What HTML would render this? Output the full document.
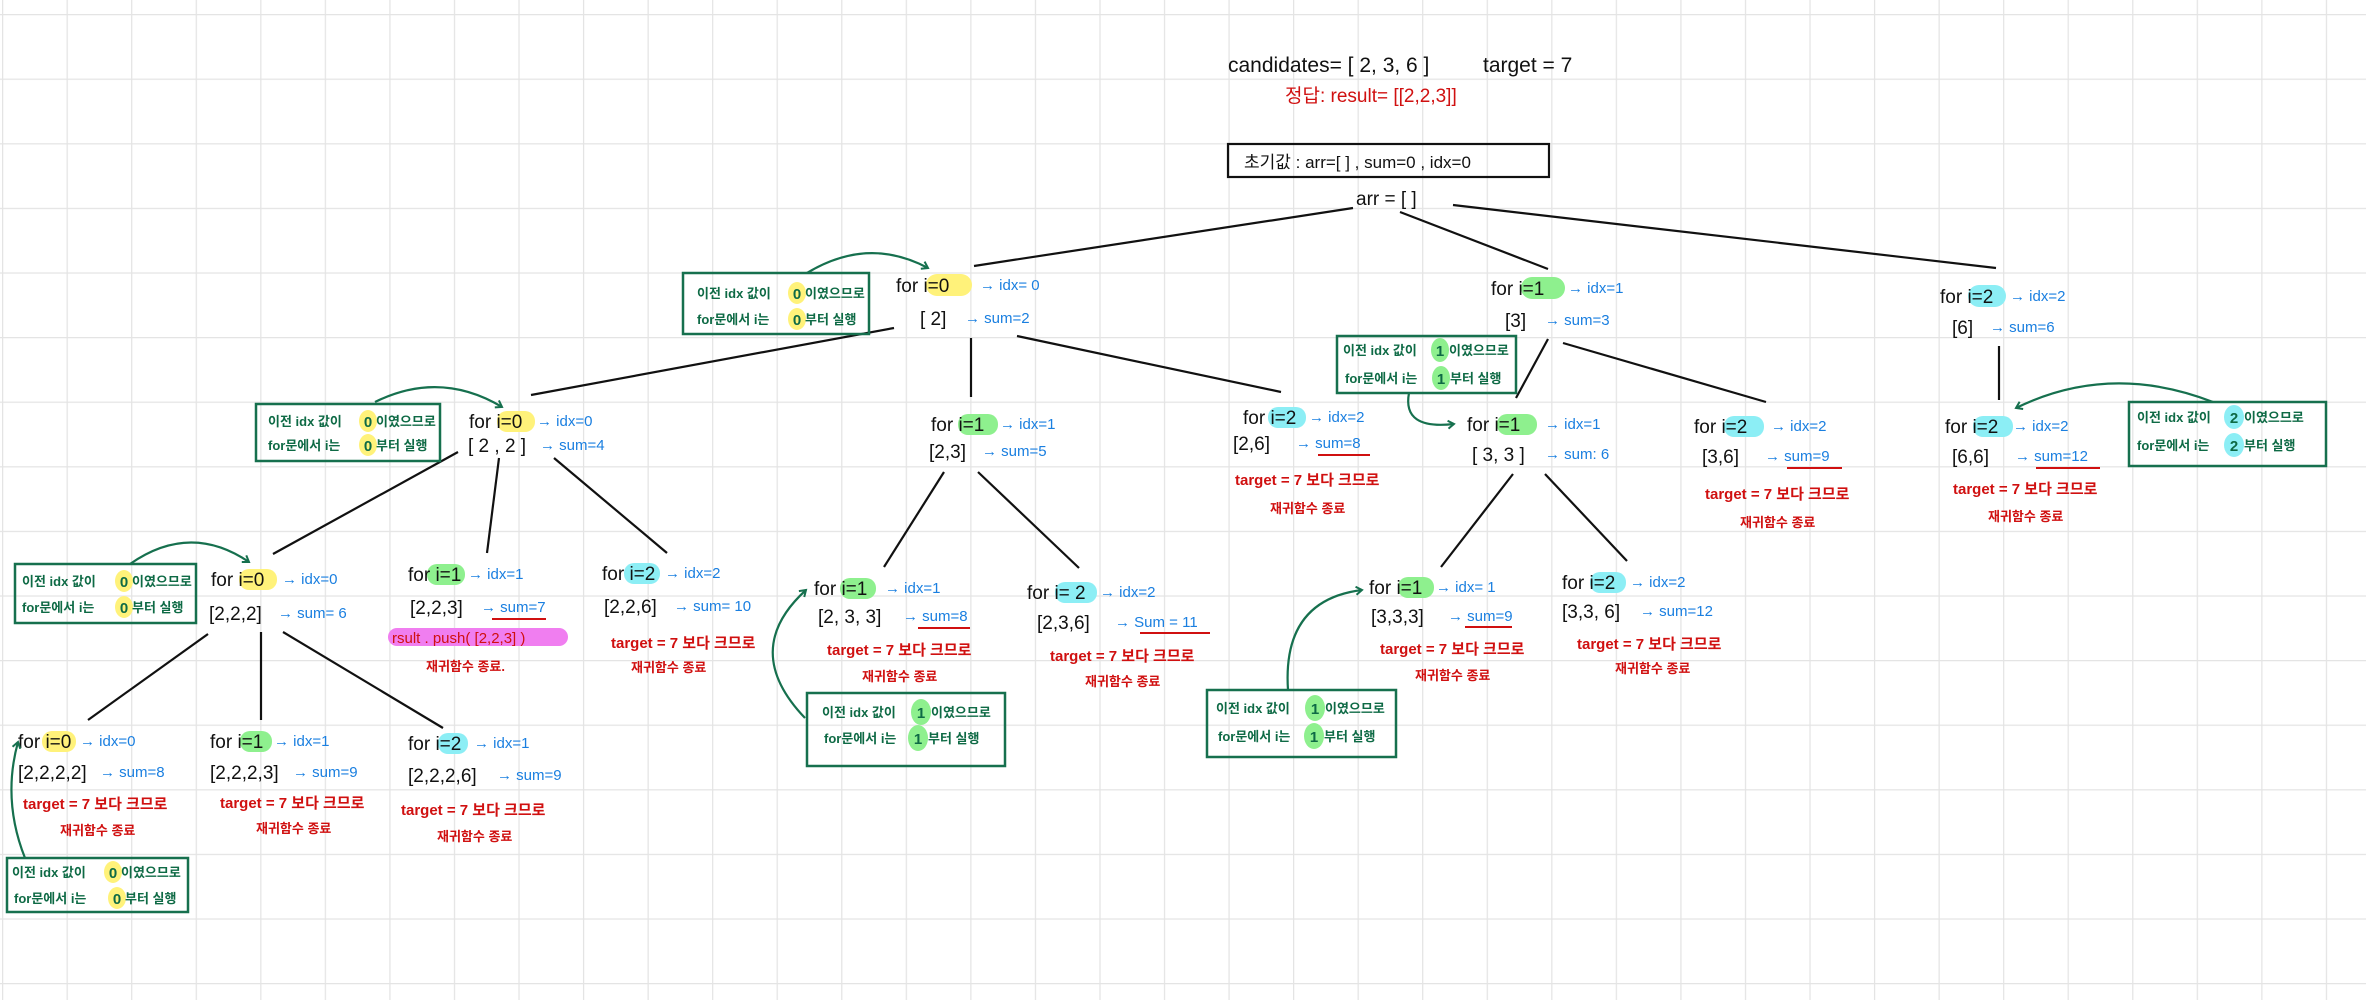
<!DOCTYPE html>
<html><head><meta charset="utf-8"><style>
html,body{margin:0;padding:0;background:#fff;}
svg{display:block;}
text{font-family:"Liberation Sans","Noto Sans CJK KR",sans-serif;}
.k{fill:#111;font-size:19px;}
.b{fill:#1a7fe0;font-size:15px;}
.r{fill:#d01010;font-size:15px;font-weight:bold;}
.g{fill:#0e6a45;font-size:13px;font-weight:bold;}
.gd{fill:#0e6a45;font-size:15px;font-weight:bold;text-anchor:middle;}
.ln{stroke:#111;stroke-width:2.2;}
.bx{fill:none;stroke:#16704e;stroke-width:2.5;}
.ar{fill:none;stroke:#16704e;stroke-width:2.2;marker-end:url(#ah);}
.ul{stroke:#d01010;stroke-width:2;}
</style></head><body>
<svg width="2366" height="1000" viewBox="0 0 2366 1000" xmlns="http://www.w3.org/2000/svg">
<defs>
<pattern id="grid" x="2" y="14" width="64.55" height="64.6" patternUnits="userSpaceOnUse">
<path d="M0 0 V64.6 M0 0 H64.55" stroke="#e4e4e4" stroke-width="2.5" fill="none"/>
</pattern>
<marker id="ah" markerWidth="10" markerHeight="10" refX="7" refY="5" orient="auto" markerUnits="userSpaceOnUse">
<path d="M1 1 L7 5 L1 9" fill="none" stroke="#16704e" stroke-width="2"/>
</marker>
</defs>
<rect x="0" y="0" width="2366" height="1000" fill="url(#grid)"/>

<!-- header -->
<text x="1228" y="72" class="k" style="font-size:21px">candidates= [ 2, 3, 6 ]</text>
<text x="1483" y="72" class="k" style="font-size:21px">target = 7</text>
<text x="1285" y="102" class="r" style="font-size:19px;font-weight:normal">정답:  result= [[2,2,3]]</text>
<rect x="1228" y="144" width="321" height="33" fill="none" stroke="#111" stroke-width="2.2"/>
<text x="1244" y="168" class="k" style="font-size:17px">초기값 :   arr=[ ] ,  sum=0 ,  idx=0</text>
<text x="1356" y="205" class="k" style="font-size:19px">arr =  [ ]</text>

<!-- tree lines -->
<line class="ln" x1="1353" y1="208" x2="974" y2="266"/>
<line class="ln" x1="1400" y1="212" x2="1548" y2="269"/>
<line class="ln" x1="1453" y1="205" x2="1996" y2="268"/>
<line class="ln" x1="894" y1="328" x2="531" y2="395"/>
<line class="ln" x1="971" y1="338" x2="971" y2="397"/>
<line class="ln" x1="1017" y1="336" x2="1281" y2="392"/>
<line class="ln" x1="458" y1="452" x2="273" y2="554"/>
<line class="ln" x1="499" y1="458" x2="487" y2="553"/>
<line class="ln" x1="554" y1="458" x2="667" y2="553"/>
<line class="ln" x1="208" y1="634" x2="88" y2="720"/>
<line class="ln" x1="261" y1="632" x2="261" y2="720"/>
<line class="ln" x1="283" y1="632" x2="443" y2="728"/>
<line class="ln" x1="944" y1="472" x2="884" y2="567"/>
<line class="ln" x1="978" y1="472" x2="1079" y2="568"/>
<line class="ln" x1="1548" y1="339" x2="1516" y2="398"/>
<line class="ln" x1="1563" y1="343" x2="1766" y2="402"/>
<line class="ln" x1="1513" y1="474" x2="1441" y2="567"/>
<line class="ln" x1="1545" y1="474" x2="1627" y2="561"/>
<line class="ln" x1="1999" y1="346" x2="1999" y2="400"/>

<!-- nodes: level1 -->
<rect x="926" y="274" width="46" height="22" rx="11" fill="#fff27a"/>
<text x="896" y="292" class="k">for  i=0</text><text x="980" y="290" class="b">→ idx= 0</text>
<text x="920" y="325" class="k">[ 2]</text><text x="965" y="323" class="b">→ sum=2</text>

<rect x="1521" y="277" width="44" height="22" rx="11" fill="#8ef08e"/>
<text x="1491" y="295" class="k">for  i=1</text><text x="1568" y="293" class="b">→ idx=1</text>
<text x="1505" y="327" class="k">[3]</text><text x="1545" y="325" class="b">→  sum=3</text>

<rect x="1968" y="285" width="38" height="22" rx="11" fill="#8ceef5"/>
<text x="1940" y="303" class="k">for  i=2</text><text x="2010" y="301" class="b">→  idx=2</text>
<text x="1952" y="334" class="k">[6]</text><text x="1990" y="332" class="b">→ sum=6</text>

<!-- level2 -->
<rect x="497" y="411" width="38" height="21" rx="10" fill="#fff27a"/>
<text x="469" y="428" class="k">for i=0</text><text x="537" y="426" class="b">→ idx=0</text>
<text x="468" y="452" class="k">[ 2 , 2 ]</text><text x="540" y="450" class="b">→ sum=4</text>

<rect x="958" y="414" width="40" height="21" rx="10" fill="#8ef08e"/>
<text x="931" y="431" class="k">for i=1</text><text x="1000" y="429" class="b">→ idx=1</text>
<text x="929" y="458" class="k">[2,3]</text><text x="982" y="456" class="b">→ sum=5</text>

<rect x="1268" y="407" width="38" height="21" rx="10" fill="#8ceef5"/>
<text x="1243" y="424" class="k">for i=2</text><text x="1309" y="422" class="b">→ idx=2</text>
<text x="1233" y="450" class="k">[2,6]</text><text x="1296" y="448" class="b">→ sum=8</text>
<line class="ul" x1="1318" y1="455" x2="1370" y2="455"/>
<text x="1235" y="485" class="r">target = 7 보다 크므로</text>
<text x="1270" y="513" class="r" style="font-size:13px">재귀함수 종료</text>

<rect x="1497" y="414" width="40" height="21" rx="10" fill="#8ef08e"/>
<text x="1467" y="431" class="k">for  i=1</text><text x="1545" y="429" class="b">→  idx=1</text>
<text x="1472" y="461" class="k">[ 3, 3 ]</text><text x="1545" y="459" class="b">→ sum: 6</text>

<rect x="1724" y="416" width="40" height="21" rx="10" fill="#8ceef5"/>
<text x="1694" y="433" class="k">for  i=2</text><text x="1771" y="431" class="b">→ idx=2</text>
<text x="1702" y="463" class="k">[3,6]</text><text x="1765" y="461" class="b">→ sum=9</text>
<line class="ul" x1="1787" y1="468" x2="1842" y2="468"/>
<text x="1705" y="499" class="r">target = 7 보다 크므로</text>
<text x="1740" y="527" class="r" style="font-size:13px">재귀함수 종료</text>

<rect x="1973" y="416" width="40" height="21" rx="10" fill="#8ceef5"/>
<text x="1945" y="433" class="k">for  i=2</text><text x="2013" y="431" class="b">→ idx=2</text>
<text x="1952" y="463" class="k">[6,6]</text><text x="2015" y="461" class="b">→  sum=12</text>
<line class="ul" x1="2036" y1="468" x2="2100" y2="468"/>
<text x="1953" y="494" class="r">target = 7 보다 크므로</text>
<text x="1988" y="521" class="r" style="font-size:13px">재귀함수 종료</text>

<!-- level3 -->
<rect x="239" y="569" width="38" height="21" rx="10" fill="#fff27a"/>
<text x="211" y="586" class="k">for i=0</text><text x="282" y="584" class="b">→ idx=0</text>
<text x="209" y="620" class="k">[2,2,2]</text><text x="278" y="618" class="b">→ sum= 6</text>

<rect x="427" y="564" width="38" height="21" rx="10" fill="#8ef08e"/>
<text x="408" y="581" class="k">for i=1</text><text x="468" y="579" class="b">→ idx=1</text>
<text x="410" y="614" class="k">[2,2,3]</text><text x="481" y="612" class="b">→ sum=7</text>
<line class="ul" x1="492" y1="619" x2="546" y2="619"/>
<rect x="388" y="628" width="180" height="18" rx="9" fill="#f07ef0"/>
<text x="392" y="643" class="r" style="font-weight:normal">rsult . push( [2,2,3] )</text>
<text x="426" y="671" class="r" style="font-size:13px">재귀함수 종료.</text>

<rect x="624" y="563" width="36" height="21" rx="10" fill="#8ceef5"/>
<text x="602" y="580" class="k">for i=2</text><text x="665" y="578" class="b">→ idx=2</text>
<text x="604" y="613" class="k">[2,2,6]</text><text x="674" y="611" class="b">→ sum= 10</text>
<text x="611" y="648" class="r">target = 7 보다 크므로</text>
<text x="631" y="672" class="r" style="font-size:13px">재귀함수 종료</text>

<rect x="840" y="578" width="36" height="21" rx="10" fill="#8ef08e"/>
<text x="814" y="595" class="k">for i=1</text><text x="885" y="593" class="b">→ idx=1</text>
<text x="818" y="623" class="k">[2, 3, 3]</text><text x="903" y="621" class="b">→ sum=8</text>
<line class="ul" x1="918" y1="628" x2="970" y2="628"/>
<text x="827" y="655" class="r">target = 7 보다 크므로</text>
<text x="862" y="681" class="r" style="font-size:13px">재귀함수 종료</text>

<rect x="1055" y="582" width="42" height="21" rx="10" fill="#8ceef5"/>
<text x="1027" y="599" class="k">for i= 2</text><text x="1100" y="597" class="b">→ idx=2</text>
<text x="1037" y="629" class="k">[2,3,6]</text><text x="1115" y="627" class="b">→ Sum = 11</text>
<line class="ul" x1="1140" y1="633" x2="1210" y2="633"/>
<text x="1050" y="661" class="r">target = 7 보다 크므로</text>
<text x="1085" y="686" class="r" style="font-size:13px">재귀함수 종료</text>

<rect x="1398" y="577" width="36" height="21" rx="10" fill="#8ef08e"/>
<text x="1369" y="594" class="k">for i=1</text><text x="1436" y="592" class="b">→ idx= 1</text>
<text x="1371" y="623" class="k">[3,3,3]</text><text x="1448" y="621" class="b">→ sum=9</text>
<line class="ul" x1="1465" y1="627" x2="1512" y2="627"/>
<text x="1380" y="654" class="r">target = 7 보다 크므로</text>
<text x="1415" y="680" class="r" style="font-size:13px">재귀함수 종료</text>

<rect x="1590" y="572" width="36" height="21" rx="10" fill="#8ceef5"/>
<text x="1562" y="589" class="k">for i=2</text><text x="1630" y="587" class="b">→ idx=2</text>
<text x="1562" y="618" class="k">[3,3, 6]</text><text x="1640" y="616" class="b">→ sum=12</text>
<text x="1577" y="649" class="r">target = 7 보다 크므로</text>
<text x="1615" y="673" class="r" style="font-size:13px">재귀함수 종료</text>

<!-- level4 -->
<rect x="42" y="731" width="34" height="21" rx="10" fill="#fff27a"/>
<text x="18" y="748" class="k">for i=0</text><text x="80" y="746" class="b">→ idx=0</text>
<text x="18" y="779" class="k">[2,2,2,2]</text><text x="100" y="777" class="b">→ sum=8</text>
<text x="23" y="809" class="r">target = 7 보다 크므로</text>
<text x="60" y="835" class="r" style="font-size:13px">재귀함수 종료</text>

<rect x="240" y="731" width="32" height="21" rx="10" fill="#8ef08e"/>
<text x="210" y="748" class="k">for i=1</text><text x="274" y="746" class="b">→ idx=1</text>
<text x="210" y="779" class="k">[2,2,2,3]</text><text x="293" y="777" class="b">→ sum=9</text>
<text x="220" y="808" class="r">target = 7 보다 크므로</text>
<text x="256" y="833" class="r" style="font-size:13px">재귀함수 종료</text>

<rect x="438" y="733" width="30" height="21" rx="10" fill="#8ceef5"/>
<text x="408" y="750" class="k">for i=2</text><text x="474" y="748" class="b">→ idx=1</text>
<text x="408" y="782" class="k">[2,2,2,6]</text><text x="497" y="780" class="b">→ sum=9</text>
<text x="401" y="815" class="r">target = 7 보다 크므로</text>
<text x="437" y="841" class="r" style="font-size:13px">재귀함수 종료</text>

<!-- green note boxes -->
<g>
<rect class="bx" x="683" y="273" width="186" height="61"/>
<ellipse cx="797" cy="293" rx="9" ry="11" fill="#fff27a"/><ellipse cx="797" cy="319" rx="9" ry="11" fill="#fff27a"/>
<text x="697" y="298" class="g">이전 idx 값이</text><text x="797" y="299" class="gd">0</text><text x="805" y="298" class="g">이였으므로</text>
<text x="697" y="324" class="g">for문에서 i는</text><text x="797" y="325" class="gd">0</text><text x="805" y="324" class="g">부터 실행</text>
</g>
<g>
<rect class="bx" x="256" y="404" width="184" height="57"/>
<ellipse cx="368" cy="421" rx="9" ry="11" fill="#fff27a"/><ellipse cx="368" cy="445" rx="9" ry="11" fill="#fff27a"/>
<text x="268" y="426" class="g">이전 idx 값이</text><text x="368" y="427" class="gd">0</text><text x="376" y="426" class="g">이였으므로</text>
<text x="268" y="450" class="g">for문에서 i는</text><text x="368" y="451" class="gd">0</text><text x="376" y="450" class="g">부터 실행</text>
</g>
<g>
<rect class="bx" x="15" y="564" width="181" height="59"/>
<ellipse cx="124" cy="581" rx="9" ry="11" fill="#fff27a"/><ellipse cx="124" cy="607" rx="9" ry="11" fill="#fff27a"/>
<text x="22" y="586" class="g">이전 idx 값이</text><text x="124" y="587" class="gd">0</text><text x="132" y="586" class="g">이였으므로</text>
<text x="22" y="612" class="g">for문에서 i는</text><text x="124" y="613" class="gd">0</text><text x="132" y="612" class="g">부터 실행</text>
</g>
<g>
<rect class="bx" x="7" y="858" width="181" height="54"/>
<ellipse cx="113" cy="872" rx="9" ry="11" fill="#fff27a"/><ellipse cx="117" cy="898" rx="9" ry="11" fill="#fff27a"/>
<text x="12" y="877" class="g">이전 idx 값이</text><text x="113" y="878" class="gd">0</text><text x="121" y="877" class="g">이였으므로</text>
<text x="14" y="903" class="g">for문에서 i는</text><text x="117" y="904" class="gd">0</text><text x="125" y="903" class="g">부터 실행</text>
</g>
<g>
<rect class="bx" x="1337" y="336" width="179" height="57"/>
<ellipse cx="1440" cy="350" rx="9" ry="12" fill="#8ef08e"/><ellipse cx="1441" cy="378" rx="9" ry="12" fill="#8ef08e"/>
<text x="1343" y="355" class="g">이전 idx 값이</text><text x="1440" y="356" class="gd">1</text><text x="1449" y="355" class="g">이였으므로</text>
<text x="1345" y="383" class="g">for문에서 i는</text><text x="1441" y="384" class="gd">1</text><text x="1450" y="383" class="g">부터 실행</text>
</g>
<g>
<rect class="bx" x="807" y="693" width="198" height="73"/>
<ellipse cx="921" cy="712" rx="10" ry="13" fill="#8ef08e"/><ellipse cx="918" cy="738" rx="10" ry="13" fill="#8ef08e"/>
<text x="822" y="717" class="g">이전 idx 값이</text><text x="921" y="718" class="gd">1</text><text x="931" y="717" class="g">이였으므로</text>
<text x="824" y="743" class="g">for문에서 i는</text><text x="918" y="744" class="gd">1</text><text x="928" y="743" class="g">부터 실행</text>
</g>
<g>
<rect class="bx" x="1207" y="690" width="189" height="67"/>
<ellipse cx="1315" cy="708" rx="10" ry="13" fill="#8ef08e"/><ellipse cx="1314" cy="736" rx="10" ry="13" fill="#8ef08e"/>
<text x="1216" y="713" class="g">이전 idx 값이</text><text x="1315" y="714" class="gd">1</text><text x="1325" y="713" class="g">이였으므로</text>
<text x="1218" y="741" class="g">for문에서 i는</text><text x="1314" y="742" class="gd">1</text><text x="1324" y="741" class="g">부터 실행</text>
</g>
<g>
<rect class="bx" x="2129" y="402" width="197" height="64"/>
<ellipse cx="2234" cy="417" rx="10" ry="12" fill="#8ceef5"/><ellipse cx="2234" cy="445" rx="10" ry="12" fill="#8ceef5"/>
<text x="2137" y="422" class="g">이전 idx 값이</text><text x="2234" y="423" class="gd">2</text><text x="2244" y="422" class="g">이였으므로</text>
<text x="2137" y="450" class="g">for문에서 i는</text><text x="2234" y="451" class="gd">2</text><text x="2244" y="450" class="g">부터 실행</text>
</g>

<!-- green arrows -->
<path class="ar" d="M807 273 Q868 236 928 268"/>
<path class="ar" d="M375 402 Q440 370 502 407"/>
<path class="ar" d="M130 564 Q190 522 249 562"/>
<path class="ar" d="M25 858 Q2 800 18 742"/>
<path class="ar" d="M1409 393 Q1402 430 1454 424"/>
<path class="ar" d="M805 718 Q740 650 806 590"/>
<path class="ar" d="M1288 690 Q1282 600 1362 590"/>
<path class="ar" d="M2213 402 Q2110 362 2016 408"/>
</svg>
</body></html>
